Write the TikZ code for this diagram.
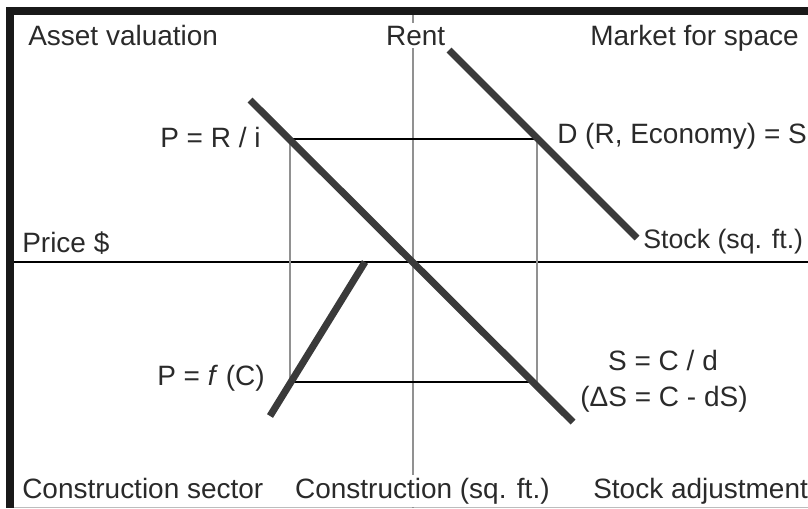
\documentclass[tikz,border=0pt]{standalone}
\usepackage{fontspec}
\setmainfont{Liberation Sans}

\begin{document}
\begin{tikzpicture}[x=0.025cm,y=-0.025cm,
    lbl/.style={anchor=base west,inner sep=0pt,text=textgrey,
        font=\fontsize{19.9}{24}\selectfont},
    curve/.style={curvegrey,line width=5pt},
    guide/.style={black,line width=1.2pt},
    axisv/.style={rulegrey,line width=1.5pt}]
    \definecolor{textgrey}{RGB}{42,42,42}
    \definecolor{curvegrey}{RGB}{58,58,58}
    \definecolor{rulegrey}{RGB}{145,145,145}

    \useasboundingbox (0,0) rectangle (808,508);

    % frame
    \fill[black!90] (6,7) rectangle (808,15);
    \fill[black!90] (6,7) rectangle (14,508);
    \draw[rulegrey!60,line width=0.6pt] (14,507) -- (808,507);

    % axes
    \coordinate (top) at (413,15);
    \coordinate (bot) at (413,508);
    \coordinate (west) at (14,262);
    \coordinate (east) at (808,262);
    \coordinate (o) at (413,262);

    \draw[axisv] (top) -- (bot);
    \draw[guide] (west) -- (east);

    % equilibrium box
    \coordinate (pr) at (290,139);
    \coordinate (rs) at (537,139);
    \coordinate (sc) at (537,382);
    \coordinate (cp) at (290,382);

    \draw[axisv] (pr) -- (cp);
    \draw[axisv] (rs) -- (sc);
    \draw[guide] (pr) -- (rs);
    \draw[guide] (cp) -- (sc);

    % curves
    \coordinate (val1) at (250,100);
    \coordinate (val2) at (573,422);
    \coordinate (dem1) at (449,50);
    \coordinate (dem2) at (637,238);
    \coordinate (con1) at (365,262);
    \coordinate (con2) at (270,416);

    \draw[curve] (val1) -- (val2);
    \draw[curve] (dem1) -- (dem2);
    \draw[curve] (con1) -- (con2);

    % quadrant titles
    \node[lbl] (asset) at (28,45) {Asset valuation};
    \node[lbl,fill=white,inner sep=2pt] (rent) at (383,45) {Rent};
    \node[lbl] (space) at (590,45) {Market for space};
    \node[lbl] (price) at (22,252) {Price \$};
    \node[lbl,font=\fontsize{19}{24}\selectfont] (stock) at (643,248) {Stock (sq. ft.)};
    \node[lbl] (sector) at (22,498) {Construction sector};
    \node[lbl,fill=white,inner sep=2pt] (constr) at (292,498) {Construction (sq. ft.)};
    \node[lbl] (adjust) at (593,498) {Stock adjustment};

    % relations
    \node[lbl] (pRi) at (160,147) {P = R / i};
    \node[lbl] (dRE) at (557,143) {D (R, Economy) = S};
    \node[lbl] (pfC) at (157,385) {P = \textit{f} (C)};
    \node[lbl,anchor=base] (sCd) at (663,370) {S = C / d};
    \node[lbl,anchor=base] (dS) at (664,406) {(ΔS = C - dS)};
\end{tikzpicture}
\end{document}
